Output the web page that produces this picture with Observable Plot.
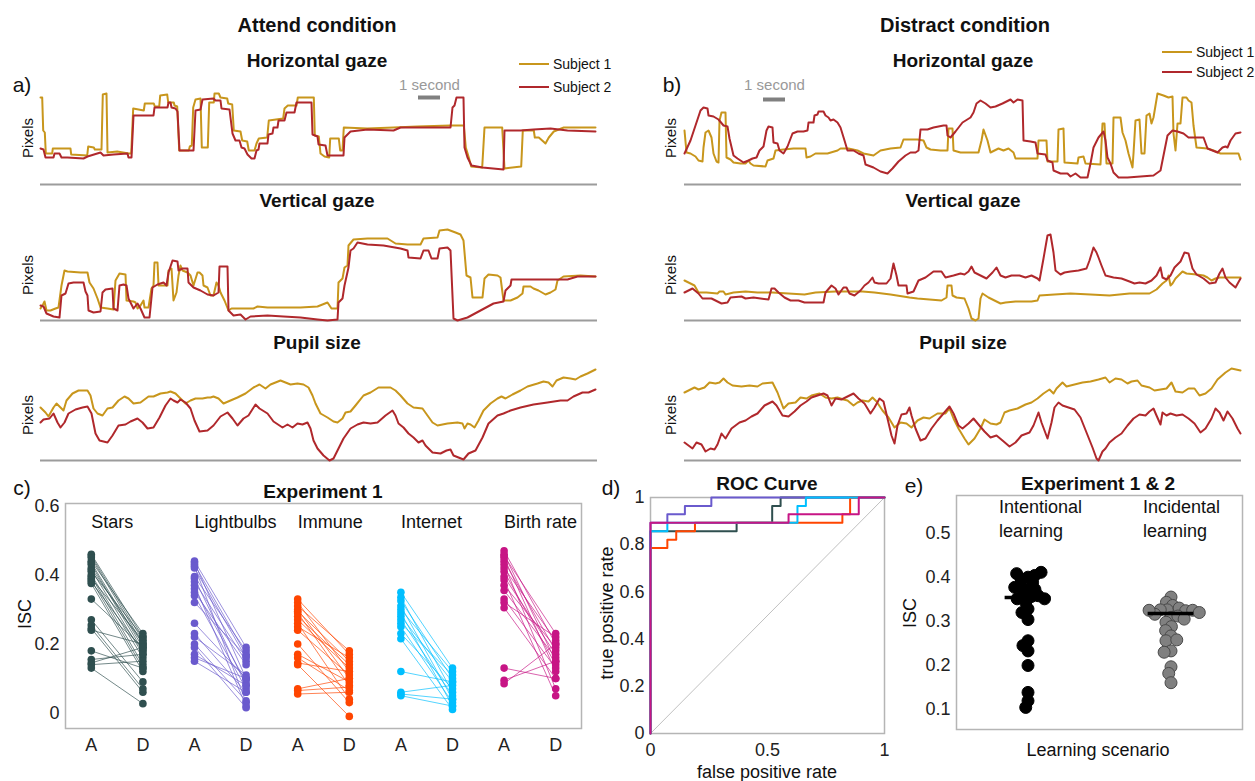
<!DOCTYPE html>
<html><head><meta charset="utf-8">
<script src="https://cdn.jsdelivr.net/npm/d3@7"></script>
<script src="https://cdn.jsdelivr.net/npm/@observablehq/plot@0.6"></script>
<style>
body{margin:0;background:#fff;font-family:"Liberation Sans",Arial,sans-serif;}
#root{position:relative;width:1255px;height:781px;overflow:hidden;background:#fff;}
.abs{position:absolute;}
.t{position:absolute;white-space:nowrap;color:#111;line-height:1;}
</style></head><body><div id="root"></div>
<script>
// ---------------- DATA ----------------
const subjects = ["Subject 1", "Subject 2"];
const subjectColors = ["#c8961c", "#b0282c"];
const SAMPLES_PER_SECOND = 22;          // time unit: samples (22 per second)
const scaleBarStart = [378, 79];        // where the "1 second" bar begins (a, b)
const scaleBarLevel = [87, 85];
const scaleLabelLevel = 99;

// Attend condition (time in samples, gaze/pupil in pixels above baseline)
const aHorizS1 = [[0,87],[1.7,87],[2.7,54],[4.3,52],[5.3,31],[11.7,31],[12.3,36],[30,36],[30.7,30],[46.7,29],[47.7,38],[53.3,37],[54.3,35],[61,35],[62.3,90],[66,91],[67,32],[76.7,33],[88.3,31],[90.7,31],[92.7,76],[103.3,74],[104.3,81],[113.3,81],[114.3,78],[118.7,78],[119.7,89],[126.7,90],[127.7,82],[133.3,82],[134,79],[136.7,78],[138.7,34],[148.3,34],[149.3,38],[151.3,39],[152.7,77],[155,85],[160,86],[161.3,37],[167.3,37],[168.7,82],[173.3,82],[174,91],[178.3,91],[180,87],[186.7,86],[187.7,81],[191.7,80],[193.3,54],[200,53],[201.7,44],[206.7,43],[208.3,34],[214,34],[216,41],[218.3,46],[226.7,47],[228.3,64],[242.7,66],[244,76],[247.3,79],[256,79],[257.3,87],[273.3,87],[274.3,49],[278.3,48],[280,31],[284,28],[288.7,27],[289.7,46],[298.3,46],[299.7,34],[302,34],[303.3,57],[326.7,56],[353.3,57],[376.7,58],[410,59],[423.3,59],[425.3,37],[428.3,27],[430.7,18],[441.7,17],[444,57],[461.7,57],[464,16],[480.7,18],[482.3,54],[493.3,54],[494.3,47],[498.3,47],[501.7,44],[505,41],[508.3,47],[513.3,53],[523.3,57],[555,57]];
const aHorizS2 = [[0,36],[3,35],[5,27],[13,27],[14,31],[19,31],[21,27],[27,27],[43,26],[47,28],[60,32],[63,29],[73,30],[87,31],[88,27],[91,27],[93,69],[103,69],[113,69],[114,77],[127,77],[128,82],[130,82],[131,77],[135,76],[137,73],[139,34],[153,34],[155,74],[160,75],[162,85],[173,86],[175,84],[180,84],[181,76],[189,75],[192,51],[195,44],[199,44],[201,37],[204,36],[207,30],[211,26],[214,26],[216,34],[218,35],[219,41],[227,41],[228,50],[232,51],[233,57],[237,57],[238,64],[244,64],[246,72],[254,72],[256,82],[271,82],[272,50],[277,48],[278,40],[285,39],[287,29],[303,29],[304,47],[307,50],[310,53],[327,55],[353,54],[360,57],[393,57],[410,57],[412,77],[414,79],[416,87],[423,87],[424,37],[427,27],[431,19],[442,17],[463,15],[464,54],[480,54],[493,55],[510,56],[527,54],[555,53]];
const aVertS1 = [[0,12],[3,17],[4,19],[6,10],[10,10],[15,12],[18,13],[21,35],[24,50],[27,49],[40,48],[47,48],[49,38],[53,32],[57,22],[60,13],[67,12],[73,11],[75,40],[79,47],[85,46],[86,20],[93,19],[95,18],[97,12],[100,15],[103,20],[104,13],[108,13],[111,32],[113,35],[114,58],[117,58],[118,35],[127,35],[128,50],[131,52],[133,20],[136,28],[138,45],[140,55],[142,50],[147,48],[150,45],[153,35],[157,48],[159,48],[162,45],[163,35],[167,33],[170,25],[173,25],[176,38],[178,35],[180,28],[184,20],[188,10],[191,12],[193,12],[203,12],[213,12],[217,14],[227,13],[243,13],[260,13],[277,14],[282,16],[287,18],[291,12],[297,12],[298,38],[302,42],[304,53],[307,55],[308,75],[313,81],[327,82],[347,82],[355,77],[367,76],[380,76],[383,82],[397,83],[399,90],[407,91],[415,88],[420,86],[423,80],[426,45],[430,43],[432,23],[442,23],[444,42],[448,46],[457,45],[460,43],[463,20],[470,20],[477,23],[482,27],[483,34],[490,34],[493,32],[498,30],[505,26],[510,28],[515,31],[517,40],[523,44],[540,45],[555,44]];
const aVertS2 = [[0,15],[3,14],[6,7],[13,4],[19,3],[21,25],[25,27],[28,37],[33,38],[43,38],[45,29],[47,25],[48,10],[53,8],[60,9],[62,28],[65,31],[72,32],[73,12],[77,10],[79,35],[83,36],[86,35],[88,22],[93,12],[97,17],[100,12],[104,3],[109,3],[112,33],[117,36],[123,38],[126,35],[128,48],[132,60],[137,59],[138,50],[142,52],[147,52],[148,38],[153,33],[160,30],[167,26],[173,25],[178,28],[179,54],[187,54],[188,10],[193,5],[200,6],[205,1],[210,4],[227,5],[243,4],[260,3],[277,1],[287,0],[297,1],[298,18],[302,22],[304,35],[308,53],[310,70],[313,72],[317,78],[327,76],[343,75],[360,72],[367,70],[368,63],[380,62],[383,70],[388,70],[391,62],[397,62],[399,72],[407,73],[410,70],[413,2],[417,0],[427,3],[440,10],[453,17],[463,19],[465,30],[470,35],[471,41],[480,41],[493,41],[527,41],[537,44],[555,44]];
const aPupilS1 = [[0,53],[5,48],[8,44],[13,53],[16,57],[20,53],[23,50],[26,60],[32,67],[38,70],[47,70],[50,65],[53,52],[57,47],[62,45],[67,52],[72,53],[78,60],[84,64],[88,62],[93,57],[100,58],[108,64],[113,64],[120,67],[127,68],[130,69],[135,67],[140,62],[145,57],[150,60],[155,62],[162,62],[167,63],[170,63],[173,64],[178,62],[183,57],[190,60],[197,63],[205,67],[213,73],[219,76],[225,72],[230,76],[240,80],[245,78],[250,76],[257,77],[263,76],[268,73],[272,65],[275,57],[280,47],[287,43],[293,39],[297,38],[302,42],[305,48],[310,49],[315,55],[323,65],[330,68],[338,73],[350,73],[355,70],[360,65],[367,57],[373,53],[382,52],[387,45],[392,38],[397,35],[407,37],[417,38],[422,37],[424,32],[427,37],[430,36],[434,33],[438,40],[443,50],[450,57],[457,62],[461,64],[465,62],[472,66],[480,70],[487,74],[497,77],[503,79],[508,78],[512,74],[516,80],[523,83],[530,82],[535,81],[540,84],[547,87],[555,91]];
const aPupilS2 = [[0,38],[3,41],[9,42],[13,47],[17,38],[20,33],[24,38],[28,47],[35,51],[42,53],[47,54],[51,47],[55,27],[59,20],[67,18],[72,25],[78,35],[85,36],[90,39],[97,42],[102,38],[107,32],[113,33],[119,43],[125,55],[130,62],[133,60],[137,58],[140,61],[145,58],[150,52],[154,40],[159,29],[167,30],[173,35],[180,44],[187,48],[192,42],[197,35],[203,42],[208,45],[215,56],[219,52],[227,47],[233,39],[242,33],[247,36],[252,33],[257,37],[262,36],[267,38],[270,32],[273,20],[277,12],[283,5],[289,0],[293,2],[298,12],[303,22],[310,32],[317,36],[323,38],[330,37],[337,38],[345,45],[352,50],[355,45],[358,37],[363,33],[368,27],[373,23],[378,18],[382,20],[385,15],[392,8],[400,7],[406,10],[410,11],[413,5],[418,3],[423,1],[428,7],[435,10],[442,23],[448,37],[457,45],[463,47],[470,50],[480,53],[493,56],[507,58],[520,60],[527,60],[533,64],[542,68],[548,68],[555,71]];

// Distract condition
const bHorizS1 = [[0,54],[2,32],[6,31],[11,28],[14,24],[18,23],[19,37],[21,52],[24,54],[27,47],[29,31],[32,23],[34,22],[35,64],[37,72],[41,72],[42,27],[46,25],[49,22],[56,21],[61,21],[64,24],[66,21],[69,19],[81,18],[83,24],[89,26],[91,34],[99,35],[109,36],[121,36],[122,27],[126,28],[131,31],[143,31],[153,34],[156,36],[164,36],[173,34],[179,31],[189,29],[196,34],[206,36],[216,37],[219,45],[233,45],[239,44],[242,37],[246,35],[256,34],[263,34],[264,56],[268,56],[269,34],[276,32],[294,32],[297,44],[299,55],[303,44],[306,32],[314,36],[319,34],[324,36],[329,32],[331,26],[343,26],[353,26],[354,44],[362,44],[363,23],[373,23],[374,55],[379,56],[380,22],[393,21],[394,27],[399,28],[401,21],[416,20],[418,61],[420,61],[422,21],[428,21],[429,67],[436,67],[438,52],[441,44],[444,31],[448,17],[449,31],[451,64],[455,65],[457,31],[460,31],[462,69],[465,71],[467,61],[469,67],[473,91],[479,89],[484,87],[488,88],[489,51],[491,34],[493,61],[496,61],[498,87],[502,87],[504,84],[507,82],[509,59],[512,37],[523,36],[529,34],[536,31],[546,31],[554,31],[556,25]];
const bHorizS2 = [[0,31],[6,44],[11,59],[16,74],[19,77],[23,76],[24,69],[29,68],[34,65],[39,59],[43,58],[45,46],[49,29],[53,26],[59,22],[64,24],[68,26],[72,27],[75,34],[79,38],[82,54],[84,58],[88,57],[89,42],[93,41],[95,34],[99,31],[103,38],[108,51],[113,53],[119,53],[123,54],[124,62],[129,62],[130,69],[133,70],[134,73],[139,73],[141,69],[144,67],[146,64],[149,65],[153,62],[156,57],[160,44],[163,34],[169,34],[174,31],[179,29],[181,20],[189,17],[196,13],[203,11],[208,16],[214,23],[221,29],[226,32],[231,32],[234,34],[236,55],[243,55],[249,57],[259,59],[262,59],[263,49],[266,47],[271,53],[278,62],[286,67],[289,72],[292,81],[296,84],[301,81],[306,77],[311,78],[318,81],[326,85],[329,82],[333,85],[338,84],[339,44],[346,43],[351,42],[353,31],[361,30],[363,24],[368,22],[369,14],[376,11],[383,11],[386,8],[391,11],[396,7],[403,7],[406,21],[409,37],[414,47],[419,53],[421,44],[423,27],[426,21],[429,12],[434,7],[443,7],[456,8],[469,9],[476,14],[479,29],[483,49],[488,54],[493,53],[499,51],[504,47],[509,47],[519,47],[523,36],[528,34],[533,32],[538,37],[541,38],[543,37],[546,44],[551,51],[556,52]];
const bVertS1 = [[0,40],[4,38],[10,35],[14,28],[22,28],[33,27],[35,29],[39,29],[41,26],[49,28],[61,29],[73,28],[88,28],[104,27],[120,26],[131,28],[151,29],[167,29],[178,29],[190,28],[206,26],[225,23],[233,22],[245,21],[257,20],[262,23],[263,35],[267,35],[268,25],[272,23],[280,22],[284,12],[287,2],[291,0],[294,2],[296,22],[298,27],[304,23],[310,20],[316,17],[321,18],[331,19],[347,19],[353,20],[355,25],[370,26],[386,27],[406,26],[425,25],[445,27],[465,27],[472,31],[478,37],[482,40],[484,45],[486,35],[488,37],[491,42],[495,46],[498,49],[502,47],[512,46],[519,45],[523,43],[527,40],[531,42],[535,43],[556,43]];
const bVertS2 = [[0,28],[8,32],[14,27],[18,22],[27,22],[31,20],[37,17],[43,18],[46,23],[57,24],[61,22],[69,23],[76,22],[84,21],[87,32],[90,32],[94,28],[100,23],[106,20],[114,20],[120,18],[129,18],[139,18],[141,28],[147,35],[151,32],[154,26],[159,33],[162,33],[165,27],[170,25],[176,30],[180,35],[184,38],[188,43],[190,38],[194,37],[202,37],[206,42],[209,57],[212,45],[214,35],[222,35],[223,27],[229,29],[234,40],[241,43],[249,49],[257,49],[261,43],[269,45],[276,47],[280,46],[284,49],[287,54],[290,48],[296,45],[302,42],[308,48],[312,53],[316,45],[321,43],[327,45],[335,45],[341,43],[347,45],[353,42],[355,40],[359,62],[363,85],[366,86],[369,68],[371,50],[376,46],[380,48],[386,49],[394,50],[402,52],[405,60],[409,73],[412,68],[414,63],[417,55],[421,45],[429,43],[437,42],[445,39],[450,37],[455,38],[461,37],[467,40],[472,45],[476,53],[478,43],[482,41],[486,45],[490,53],[496,59],[500,68],[504,67],[508,52],[512,46],[519,42],[525,37],[531,38],[535,47],[538,52],[541,43],[545,38],[551,33],[556,42]];
const bPupilS1 = [[0,68],[6,71],[10,73],[14,71],[20,73],[25,78],[31,77],[35,78],[39,82],[43,78],[48,75],[57,74],[65,75],[73,74],[78,77],[88,78],[93,68],[99,52],[104,57],[111,58],[116,63],[122,62],[127,65],[135,67],[141,63],[147,62],[153,63],[159,61],[163,60],[169,55],[173,58],[178,60],[184,59],[188,63],[192,59],[198,50],[204,43],[210,33],[216,38],[222,37],[227,33],[233,40],[239,43],[245,42],[253,47],[261,47],[265,52],[269,42],[274,32],[280,22],[284,16],[290,22],[296,32],[300,41],[306,37],[312,36],[316,38],[320,48],[325,50],[333,52],[341,56],[347,58],[353,62],[359,67],[365,71],[369,67],[372,72],[378,78],[382,74],[390,76],[398,78],[406,79],[414,81],[421,83],[425,78],[431,82],[437,81],[443,77],[447,79],[453,80],[457,75],[465,73],[470,70],[476,71],[482,72],[487,78],[491,69],[498,68],[504,72],[510,72],[515,65],[521,67],[527,72],[533,81],[541,88],[547,92],[556,90]];
const bPupilS2 = [[0,18],[4,15],[8,12],[12,18],[17,16],[21,9],[26,12],[30,11],[33,16],[37,27],[41,22],[47,32],[55,38],[61,40],[67,44],[73,47],[80,55],[88,59],[92,55],[98,45],[104,44],[110,49],[116,55],[122,59],[127,63],[133,65],[139,67],[143,65],[147,55],[151,62],[157,61],[163,64],[169,67],[174,62],[180,57],[186,47],[190,53],[195,62],[199,59],[203,42],[207,25],[210,17],[213,35],[217,46],[222,47],[225,53],[227,45],[231,32],[236,20],[241,22],[247,32],[253,40],[259,47],[265,54],[269,47],[274,35],[278,32],[284,37],[289,42],[294,36],[300,29],[306,23],[312,25],[318,20],[325,14],[331,18],[337,25],[345,28],[349,35],[354,48],[357,38],[363,22],[367,38],[370,53],[374,58],[378,55],[384,53],[390,51],[396,43],[402,28],[408,13],[412,2],[414,0],[418,9],[421,12],[425,18],[431,23],[437,27],[443,35],[449,42],[455,46],[461,45],[465,49],[469,52],[472,45],[476,36],[478,48],[482,45],[486,47],[492,45],[498,46],[504,42],[510,37],[516,28],[521,32],[527,42],[531,52],[535,48],[539,40],[543,49],[548,42],[553,32],[556,27]];

// Experiment 1 (ISC, attend vs distract, paired by subject)
const topics = ["Stars", "Lightbulbs", "Immune", "Internet", "Birth rate"];
const topicColors = ["#2f4f4f", "#6a5acd", "#ff4500", "#00bfff", "#c71585"];
const condLabels = ["A", "D"];
const starsA = [0.46,0.455,0.45,0.44,0.435,0.43,0.42,0.415,0.41,0.40,0.395,0.39,0.385,0.38,0.375,0.33,0.27,0.255,0.245,0.24,0.18,0.155,0.145,0.14,0.13];
const starsD = [0.22,0.21,0.2,0.23,0.19,0.18,0.2,0.17,0.22,0.16,0.14,0.21,0.13,0.18,0.12,0.19,0.09,0.07,0.06,0.2,0.13,0.17,0.19,0.15,0.027];
const bulbsA = [0.44,0.435,0.43,0.425,0.42,0.395,0.39,0.38,0.37,0.36,0.35,0.34,0.32,0.26,0.23,0.22,0.2,0.19,0.17,0.16,0.15];
const bulbsD = [0.19,0.1,0.17,0.03,0.16,0.18,0.08,0.15,0.02,0.09,0.14,0.07,0.165,0.1,0.06,0.11,0.035,0.015,0.08,0.1,0.06];
const immuneA = [0.33,0.32,0.31,0.30,0.295,0.29,0.28,0.27,0.26,0.25,0.24,0.2,0.17,0.16,0.145,0.14,0.07,0.065,0.055];
const immuneD = [0.17,0.12,0.18,0.1,0.15,0.08,0.14,0.13,0.04,0.16,0.11,0.03,0.09,0.065,0.12,-0.01,0.1,0.075,0.06];
const internetA = [0.35,0.335,0.325,0.31,0.3,0.29,0.28,0.27,0.26,0.25,0.23,0.215,0.12,0.06,0.055,0.05];
const internetD = [0.13,0.06,0.1,0.04,0.12,0.02,0.09,0.05,0.11,0.03,0.07,0.01,0.09,0.08,0.04,0.02];
const birthA = [0.47,0.46,0.455,0.45,0.44,0.43,0.42,0.41,0.395,0.385,0.37,0.355,0.33,0.32,0.305,0.13,0.095,0.085];
const birthD = [0.2,0.15,0.23,0.12,0.18,0.07,0.21,0.14,0.17,0.05,0.19,0.16,0.13,0.22,0.1,0.1,0.15,0.2];

// ROC curves: [false positive rate, true positive rate] at each threshold
const rocStars = [[0,0],[0,0.857],[0.368,0.893],[0.52,0.964],[0.556,1],[1,1]];
const rocBulbs = [[0,0],[0,0.893],[0.072,0.929],[0.147,0.964],[0.26,1],[1,1]];
const rocImmune = [[0,0],[0,0.786],[0.072,0.821],[0.11,0.857],[0.19,0.893],[0.82,0.929],[0.853,1],[1,1]];
const rocInternet = [[0,0],[0,0.857],[0.072,0.893],[0.628,0.964],[0.664,1],[1,1]];
const rocBirth = [[0,0],[0,0.893],[0.59,0.929],[0.89,1],[1,1]];
const chanceLine = [[0,0],[1,1]];

// Experiment 1 & 2
const scenarios = ["Intentional learning", "Incidental learning"];
const intentionalISC = [0.328,0.37,0.358,0.372,0.40,0.396,0.388,0.404,0.408,0.411,0.377,0.358,0.356,0.351,0.343,0.351,0.377,0.32,0.304,0.256,0.245,0.233,0.2,0.139,0.12,0.105];
const incidentalISC = [0.355,0.343,0.336,0.326,0.33,0.326,0.324,0.309,0.316,0.312,0.298,0.305,0.288,0.279,0.267,0.256,0.258,0.233,0.23,0.197,0.182,0.161,0.325,0.325,0.32];
const scenarioMedians = [0.354, 0.318];

// ---------------- LAYOUT HELPERS ----------------
const root = document.getElementById("root");
const FONT = "Liberation Sans, Arial, sans-serif";
function put(node, left, top, w) {
  const d = document.createElement("div");
  d.className = "abs"; d.style.left = left + "px"; d.style.top = top + "px";
  if (w) d.style.width = w + "px";
  d.appendChild(node); root.appendChild(d); return d;
}
function label(text, x, y, o = {}) {
  const d = document.createElement("div");
  d.className = "t"; d.textContent = text;
  d.style.left = x + "px"; d.style.top = y + "px";
  d.style.fontSize = (o.size || 16) + "px";
  if (o.bold) d.style.fontWeight = "bold";
  if (o.color) d.style.color = o.color;
  const a = o.anchor || "middle";
  let tf = a === "middle" ? "translate(-50%,-50%)" : a === "start" ? "translate(0,-50%)" : "translate(-100%,-50%)";
  if (o.rotate) tf += " rotate(-90deg)";
  d.style.transform = tf;
  root.appendChild(d);
}
function legendItem(x, y, color, text) {
  const ln = document.createElement("div");
  ln.style.cssText = `position:absolute;left:${x}px;top:${y - 1}px;width:30px;height:0;border-top:2px solid ${color}`;
  root.appendChild(ln);
  label(text, x + 34, y, {size: 14, anchor: "start"});
}
const toRows = s => s.map(([t, v]) => ({t, v}));

function tsPlot(s1, s2, o) {
  const marks = [
    Plot.ruleY([0], {stroke: "#9c9c9c", strokeWidth: 2}),
    Plot.line(toRows(s1), {x: "t", y: "v", stroke: subjectColors[0], strokeWidth: 2}),
    Plot.line(toRows(s2), {x: "t", y: "v", stroke: subjectColors[1], strokeWidth: 2})
  ];
  if (o.bar != null) {
    marks.push(Plot.ruleY([o.barLevel], {x1: o.bar, x2: o.bar + SAMPLES_PER_SECOND, stroke: "#808080", strokeWidth: 4}));
    marks.push(Plot.text(["1 second"], {x: o.bar + SAMPLES_PER_SECOND / 2, y: scaleLabelLevel, text: d => d, fill: "#999", fontSize: 15}));
  }
  return Plot.plot({
    width: o.w, height: o.h, marginLeft: o.ml, marginRight: o.mr, marginTop: o.mt, marginBottom: o.mb,
    style: {background: "transparent", fontFamily: FONT},
    x: {domain: [0, 557], axis: null},
    y: {domain: [0, 100], axis: null},
    marks
  });
}

// ---------------- TOP ROW ----------------
const colA = {left: 0, w: 620, ml: 40, mr: 23};
const colB = {left: 640, w: 615, ml: 44, mr: 14};
const rows = [
  {top: 40, h: 150, mt: 44, mb: 6},
  {top: 210, h: 115, mt: 10, mb: 5},
  {top: 350, h: 115, mt: 10, mb: 5}
];
const seriesA = [[aHorizS1, aHorizS2], [aVertS1, aVertS2], [aPupilS1, aPupilS2]];
const seriesB = [[bHorizS1, bHorizS2], [bVertS1, bVertS2], [bPupilS1, bPupilS2]];
[[colA, seriesA, 0], [colB, seriesB, 1]].forEach(([col, series, k]) => {
  rows.forEach((r, i) => {
    const p = tsPlot(series[i][0], series[i][1], {
      w: col.w, h: r.h, ml: col.ml, mr: col.mr, mt: r.mt, mb: r.mb,
      bar: i === 0 ? scaleBarStart[k] : null, barLevel: scaleBarLevel[k]
    });
    put(p, col.left, r.top, col.w);
  });
});

// ---------------- PANEL C ----------------
const iscA = [starsA, bulbsA, immuneA, internetA, birthA];
const iscD = [starsD, bulbsD, immuneD, internetD, birthD];
const cLinks = [], cDots = [];
topics.forEach((tp, k) => {
  iscA[k].forEach((a, i) => {
    const d = iscD[k][i];
    cLinks.push({topic: tp, x1: 2 * k + 1, x2: 2 * k + 2, y1: a, y2: d});
    cDots.push({topic: tp, x: 2 * k + 1, y: a});
    cDots.push({topic: tp, x: 2 * k + 2, y: d});
  });
});
const plotC = Plot.plot({
  width: 600, height: 301, marginLeft: 65, marginRight: 19, marginTop: 23, marginBottom: 53,
  style: {background: "transparent", fontFamily: FONT, fontSize: "18px", color: "#222"},
  x: {domain: [0.5, 10.5], ticks: d3.range(1, 11), tickFormat: d => condLabels[(d - 1) % 2], tickSize: 0, tickPadding: 10, label: null},
  y: {domain: [-0.045, 0.607], ticks: [0, 0.2, 0.4, 0.6], tickFormat: d3.format("~g"), tickSize: 0, tickPadding: 6, label: null},
  color: {domain: topics, range: topicColors},
  marks: [
    Plot.frame({stroke: "#b5b5b5", strokeWidth: 1.5}),
    Plot.link(cLinks, {x1: "x1", y1: "y1", x2: "x2", y2: "y2", stroke: "topic", strokeWidth: 0.9, strokeOpacity: 0.75}),
    Plot.dot(cDots, {x: "x", y: "y", fill: "topic", r: 3.8}),
    Plot.text(topics, {x: (d, i) => 2 * i + 1, y: 0.552, text: d => d, textAnchor: "start", fontSize: 18, fill: "#111"})
  ]
});
put(plotC, 0, 480, 600);

// ---------------- PANEL D ----------------
const rocSets = [rocStars, rocBulbs, rocImmune, rocInternet, rocBirth];
const rocRows = rocSets.flatMap((pts, k) => pts.map(([f, t]) => ({topic: topics[k], f, t})));
const plotD = Plot.plot({
  width: 300, height: 301, marginLeft: 60, marginRight: 6, marginTop: 17, marginBottom: 48,
  style: {background: "transparent", fontFamily: FONT, fontSize: "18px", color: "#222"},
  x: {domain: [0, 1], ticks: [0, 0.5, 1], tickFormat: d3.format("~g"), tickSize: 0, tickPadding: 10, label: null},
  y: {domain: [0, 1], ticks: [0, 0.2, 0.4, 0.6, 0.8, 1], tickFormat: d3.format("~g"), tickSize: 0, tickPadding: 6, label: null},
  color: {domain: topics, range: topicColors},
  marks: [
    Plot.frame({stroke: "#b5b5b5", strokeWidth: 1.5}),
    Plot.line(chanceLine, {x: d => d[0], y: d => d[1], stroke: "#b0b0b0", strokeWidth: 0.8}),
    Plot.line(rocRows, {x: "f", y: "t", z: "topic", stroke: "topic", curve: "step-after", strokeWidth: 2})
  ]
});
put(plotD, 590, 480, 300);

// ---------------- PANEL E ----------------
const eDomain = [0.055, 0.585];
const plotE = Plot.plot({
  width: 365, height: 301, marginLeft: 66, marginRight: 13, marginTop: 15, marginBottom: 52,
  style: {background: "transparent", fontFamily: FONT, fontSize: "18px", color: "#222"},
  x: {domain: [0, 1], axis: null},
  y: {domain: eDomain, ticks: [0.1, 0.2, 0.3, 0.4, 0.5], tickFormat: d3.format("~g"), tickSize: 0, tickPadding: 6, label: null},
  marks: [Plot.frame({stroke: "#b5b5b5", strokeWidth: 1.5})]
});
put(plotE, 890, 480, 365);
[[intentionalISC, "#000", "#000", 0], [incidentalISC, "#808080", "#4a4a4a", 1]].forEach(([vals, fill, stroke, k]) => {
  const p = Plot.plot({
    width: 143, height: 301, marginLeft: 0, marginRight: 0, marginTop: 15, marginBottom: 52,
    style: {background: "transparent"},
    x: {domain: [-0.5, 0.5], axis: null},
    y: {domain: eDomain, axis: null},
    marks: [
      Plot.dot(vals, Plot.dodgeX({anchor: "middle", padding: -5}, {y: d => d, r: 6, fill, stroke, strokeWidth: 1})),
      Plot.ruleY([scenarioMedians[k]], {x1: -0.16, x2: 0.16, stroke: "#000", strokeWidth: 3.5})
    ]
  });
  put(p, 956 + k * 143, 480, 143);
});

// ---------------- TEXT ----------------
label("a)", 22, 84, {size: 21});
label("b)", 672, 84, {size: 21});
label("Attend condition", 317, 25, {size: 20, bold: true});
label("Distract condition", 965, 25, {size: 20, bold: true});
const rowTitles = ["Horizontal gaze", "Vertical gaze", "Pupil size"];
const rowTitleY = [60, 200, 342];
const pixelsY = [138, 275, 415];
rowTitles.forEach((t, i) => {
  label(t, 317, rowTitleY[i], {size: 19, bold: true});
  label(t, 963, rowTitleY[i], {size: 19, bold: true});
  label("Pixels", 27, pixelsY[i], {size: 15, rotate: true});
  label("Pixels", 670, pixelsY[i], {size: 15, rotate: true});
});
legendItem(519, 64, subjectColors[0], subjects[0]);
legendItem(519, 87, subjectColors[1], subjects[1]);
legendItem(1162, 52, subjectColors[0], subjects[0]);
legendItem(1162, 72, subjectColors[1], subjects[1]);

label("c)", 22, 487, {size: 21});
label("Experiment 1", 323, 491, {size: 19, bold: true});
label("ISC", 25, 614, {size: 18, rotate: true});

label("d)", 611, 487, {size: 21});
label("ROC Curve", 767, 483, {size: 19, bold: true});
label("true positive rate", 607, 613, {size: 18, rotate: true});
label("false positive rate", 767, 772, {size: 18});

label("e)", 914, 485, {size: 21});
label("Experiment 1 & 2", 1098, 483, {size: 19, bold: true});
label("ISC", 910, 613, {size: 18, rotate: true});
const scenarioLeft = [999, 1143];
scenarios.forEach((s, k) => {
  const [w1, w2] = s.split(" ");
  label(w1, scenarioLeft[k], 507, {size: 18, anchor: "start"});
  label(w2, scenarioLeft[k], 531, {size: 18, anchor: "start"});
});
label("Learning scenario", 1098, 750, {size: 18});
</script></body></html>
